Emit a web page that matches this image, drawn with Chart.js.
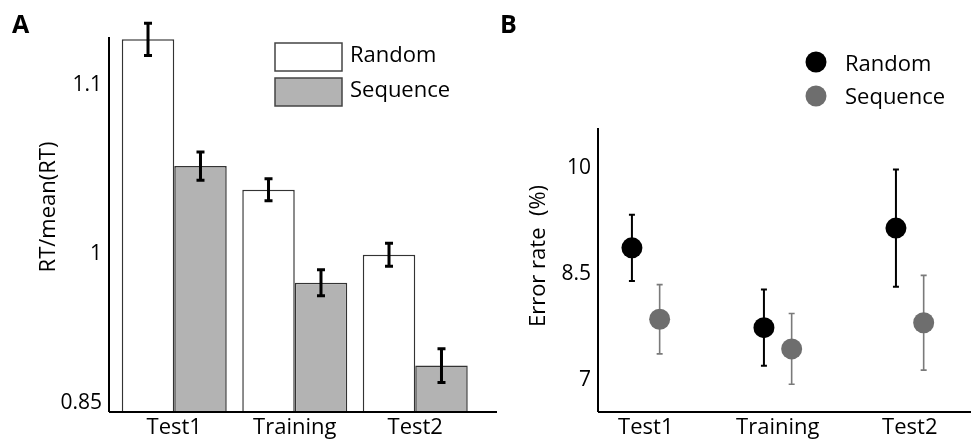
<!DOCTYPE html>
<html>
<head>
<meta charset="utf-8">
<script src="https://cdn.jsdelivr.net/npm/chart.js@4.4.0/dist/chart.umd.min.js"></script>
<style>
  body { margin: 0; background: #fff; }
  #wrap { position: relative; width: 971px; height: 444px; overflow: hidden; }
  #boxA { position: absolute; left: 0; top: 0; width: 500px; height: 444px; }
  #boxB { position: absolute; left: 490px; top: 0; width: 481px; height: 444px; }
</style>
</head>
<body>
<div id="wrap">
  <div id="boxA"><canvas id="chartA" width="500" height="444"></canvas></div>
  <div id="boxB"><canvas id="chartB" width="481" height="444"></canvas></div>
</div>
<script>
var categories = ['Test1', 'Training', 'Test2'];
var seriesNames = ['Random', 'Sequence'];

// panel A - RT/mean(RT)
var rtRandom = [1.127, 1.038, 0.9995];
var rtRandomErr = [0.0095, 0.0065, 0.0068];
var rtSequence = [1.052, 0.983, 0.934];
var rtSequenceErr = [0.0083, 0.0077, 0.010];
var rtTickValues = [0.912, 1, 1.1];
var rtTickLabels = ['0.85', '1', '1.1'];

// panel B - error rate (%)
var errRandom = [8.87, 7.74, 9.15];
var errRandomErr = [0.47, 0.54, 0.83];
var errSequence = [7.86, 7.44, 7.81];
var errSequenceErr = [0.49, 0.50, 0.67];
var errTickValues = [7, 8.5, 10];

Chart.defaults.font.family = "'Open Sans', sans-serif";
Chart.defaults.color = '#000';

var FONT = "22px 'Open Sans', sans-serif";

// error bars drawn from each dataset's "errors" array
function drawErrors(chart, opts) {
    var ctx = chart.ctx;
    var yScale = chart.scales.y;
    chart.data.datasets.forEach(function (ds, i) {
        if (!ds.errors) return;
        var meta = chart.getDatasetMeta(i);
        meta.data.forEach(function (el, j) {
            var v = ds.data[j];
            if (typeof v === 'object') v = v.y;
            var top = yScale.getPixelForValue(v + ds.errors[j]);
            var bot = yScale.getPixelForValue(v - ds.errors[j]);
            ctx.save();
            ctx.strokeStyle = ds.errorColor;
            ctx.lineWidth = ds.errorWidth;
            ctx.beginPath();
            ctx.moveTo(el.x, top);
            ctx.lineTo(el.x, bot);
            ctx.moveTo(el.x - opts.cap, top);
            ctx.lineTo(el.x + opts.cap, top);
            ctx.moveTo(el.x - opts.cap, bot);
            ctx.lineTo(el.x + opts.cap, bot);
            ctx.stroke();
            ctx.restore();
        });
    });
}

var errorBarPlugin = {
    id: 'errorBars',
    beforeDatasetsDraw: function (chart, args, opts) {
        if (opts.under) drawErrors(chart, opts);
    },
    afterDatasetsDraw: function (chart, args, opts) {
        if (!opts.under) drawErrors(chart, opts);
    }
};

// axes lines, rotated title, legend and panel letter
var decorPlugin = {
    id: 'decor',
    afterDraw: function (chart, args, o) {
        var ctx = chart.ctx;
        var a = chart.chartArea;
        var axisLeft = o.axisLeft || a.left;
        ctx.save();
        ctx.strokeStyle = '#000';
        ctx.lineWidth = 2;
        ctx.beginPath();
        ctx.moveTo(axisLeft, a.top);
        ctx.lineTo(axisLeft, a.bottom);
        ctx.moveTo(axisLeft, a.bottom);
        ctx.lineTo(o.axisRight, a.bottom);
        ctx.stroke();

        ctx.fillStyle = '#000';
        ctx.font = "bold 25px 'Open Sans', sans-serif";
        ctx.textAlign = 'left';
        ctx.textBaseline = 'alphabetic';
        ctx.fillText(o.letter, o.letterX, 33);

        ctx.save();
        ctx.translate(o.titleX, o.titleY);
        ctx.rotate(-Math.PI / 2);
        ctx.font = FONT;
        ctx.textAlign = 'center';
        ctx.textBaseline = 'middle';
        ctx.fillText(o.title, 0, 0);
        ctx.restore();

        chart.data.datasets.forEach(function (ds, i) {
            var cy = o.legendY[i];
            if (o.legendType === 'box') {
                ctx.fillStyle = ds.backgroundColor;
                ctx.fillRect(o.legendX, cy - 14, 67, 28);
                ctx.strokeStyle = '#444';
                ctx.lineWidth = 1.5;
                ctx.strokeRect(o.legendX, cy - 14, 67, 28);
            } else {
                ctx.fillStyle = ds.pointBackgroundColor;
                ctx.beginPath();
                ctx.arc(o.legendX, cy, 10.5, 0, Math.PI * 2);
                ctx.fill();
            }
            ctx.fillStyle = '#000';
            ctx.font = FONT;
            ctx.textAlign = 'left';
            ctx.textBaseline = 'alphabetic';
            ctx.fillText(ds.label, o.legendTextX, o.legendBase[i]);
        });
        ctx.restore();
    }
};

new Chart(document.getElementById('chartA'), {
    type: 'bar',
    data: {
        labels: categories,
        datasets: [{
            label: seriesNames[0],
            data: rtRandom,
            errors: rtRandomErr,
            backgroundColor: '#ffffff',
            borderColor: '#333',
            borderWidth: 1.5,
            borderSkipped: false,
            errorColor: '#000',
            errorWidth: 3
        }, {
            label: seriesNames[1],
            data: rtSequence,
            errors: rtSequenceErr,
            backgroundColor: '#b3b3b3',
            borderColor: '#333',
            borderWidth: 1.5,
            borderSkipped: false,
            errorColor: '#000',
            errorWidth: 3
        }]
    },
    options: {
        responsive: false,
        animation: false,
        events: [],
        layout: { padding: { top: 37, right: 24.5, left: 0, bottom: 0 } },
        datasets: { bar: { categoryPercentage: 0.871, barPercentage: 1 } },
        plugins: {
            legend: { display: false },
            tooltip: { enabled: false },
            errorBars: { under: false, cap: 4 },
            decor: {
                axisLeft: 109, axisRight: 497, letter: 'A', letterX: 12,
                title: 'RT/mean(RT)', titleX: 49, titleY: 207,
                legendType: 'box', legendX: 275, legendY: [57, 92],
                legendTextX: 350, legendBase: [62, 97]
            }
        },
        scales: {
            x: {
                grid: { display: false, drawTicks: false },
                border: { display: false },
                ticks: { font: { size: 22 }, padding: 3, autoSkip: false, maxRotation: 0 },
                afterFit: function (axis) { axis.height = 32; }
            },
            y: {
                min: 0.9065,
                max: 1.1284,
                grid: { display: false, drawTicks: false },
                border: { display: false },
                afterBuildTicks: function (axis) {
                    axis.ticks = rtTickValues.map(function (v) { return { value: v }; });
                },
                ticks: {
                    font: { size: 21 },
                    padding: 12,
                    callback: function (value, index) { return rtTickLabels[index]; }
                },
                afterFit: function (axis) { axis.width = 114; }
            }
        }
    },
    plugins: [errorBarPlugin, decorPlugin]
});

var dx = 0.105;

new Chart(document.getElementById('chartB'), {
    type: 'scatter',
    data: {
        datasets: [{
            label: seriesNames[0],
            data: errRandom.map(function (v, i) { return { x: i + 1 - dx, y: v }; }),
            errors: errRandomErr,
            pointRadius: 10.5,
            pointBackgroundColor: '#000000',
            pointBorderWidth: 0,
            errorColor: '#000',
            errorWidth: 2
        }, {
            label: seriesNames[1],
            data: errSequence.map(function (v, i) { return { x: i + 1 + dx, y: v }; }),
            errors: errSequenceErr,
            pointRadius: 10.5,
            pointBackgroundColor: '#6e6e6e',
            pointBorderWidth: 0,
            errorColor: '#7a7a7a',
            errorWidth: 1.6
        }]
    },
    options: {
        responsive: false,
        animation: false,
        events: [],
        layout: { padding: { top: 128, right: 1, left: 0, bottom: 0 } },
        plugins: {
            legend: { display: false },
            tooltip: { enabled: false },
            errorBars: { under: true, cap: 3 },
            decor: {
                axisRight: 481, letter: 'B', letterX: 10,
                title: 'Error rate  (%)', titleX: 49, titleY: 256,
                legendType: 'dot', legendX: 326, legendY: [62, 96],
                legendTextX: 355, legendBase: [71, 104]
            }
        },
        scales: {
            x: {
                type: 'linear',
                min: 0.638,
                max: 3.384,
                grid: { display: false, drawTicks: false },
                border: { display: false },
                afterBuildTicks: function (axis) {
                    axis.ticks = [1, 2, 3].map(function (v) { return { value: v }; });
                },
                ticks: {
                    font: { size: 22 }, padding: 3, autoSkip: false, maxRotation: 0,
                    callback: function (value) { return categories[value - 1]; }
                },
                afterFit: function (axis) { axis.height = 32; }
            },
            y: {
                min: 6.547,
                max: 10.566,
                grid: { display: false, drawTicks: false },
                border: { display: false },
                afterBuildTicks: function (axis) {
                    axis.ticks = errTickValues.map(function (v) { return { value: v }; });
                },
                ticks: { font: { size: 21 }, padding: 7 },
                afterFit: function (axis) { axis.width = 108; }
            }
        }
    },
    plugins: [errorBarPlugin, decorPlugin]
});
</script>
</body>
</html>
